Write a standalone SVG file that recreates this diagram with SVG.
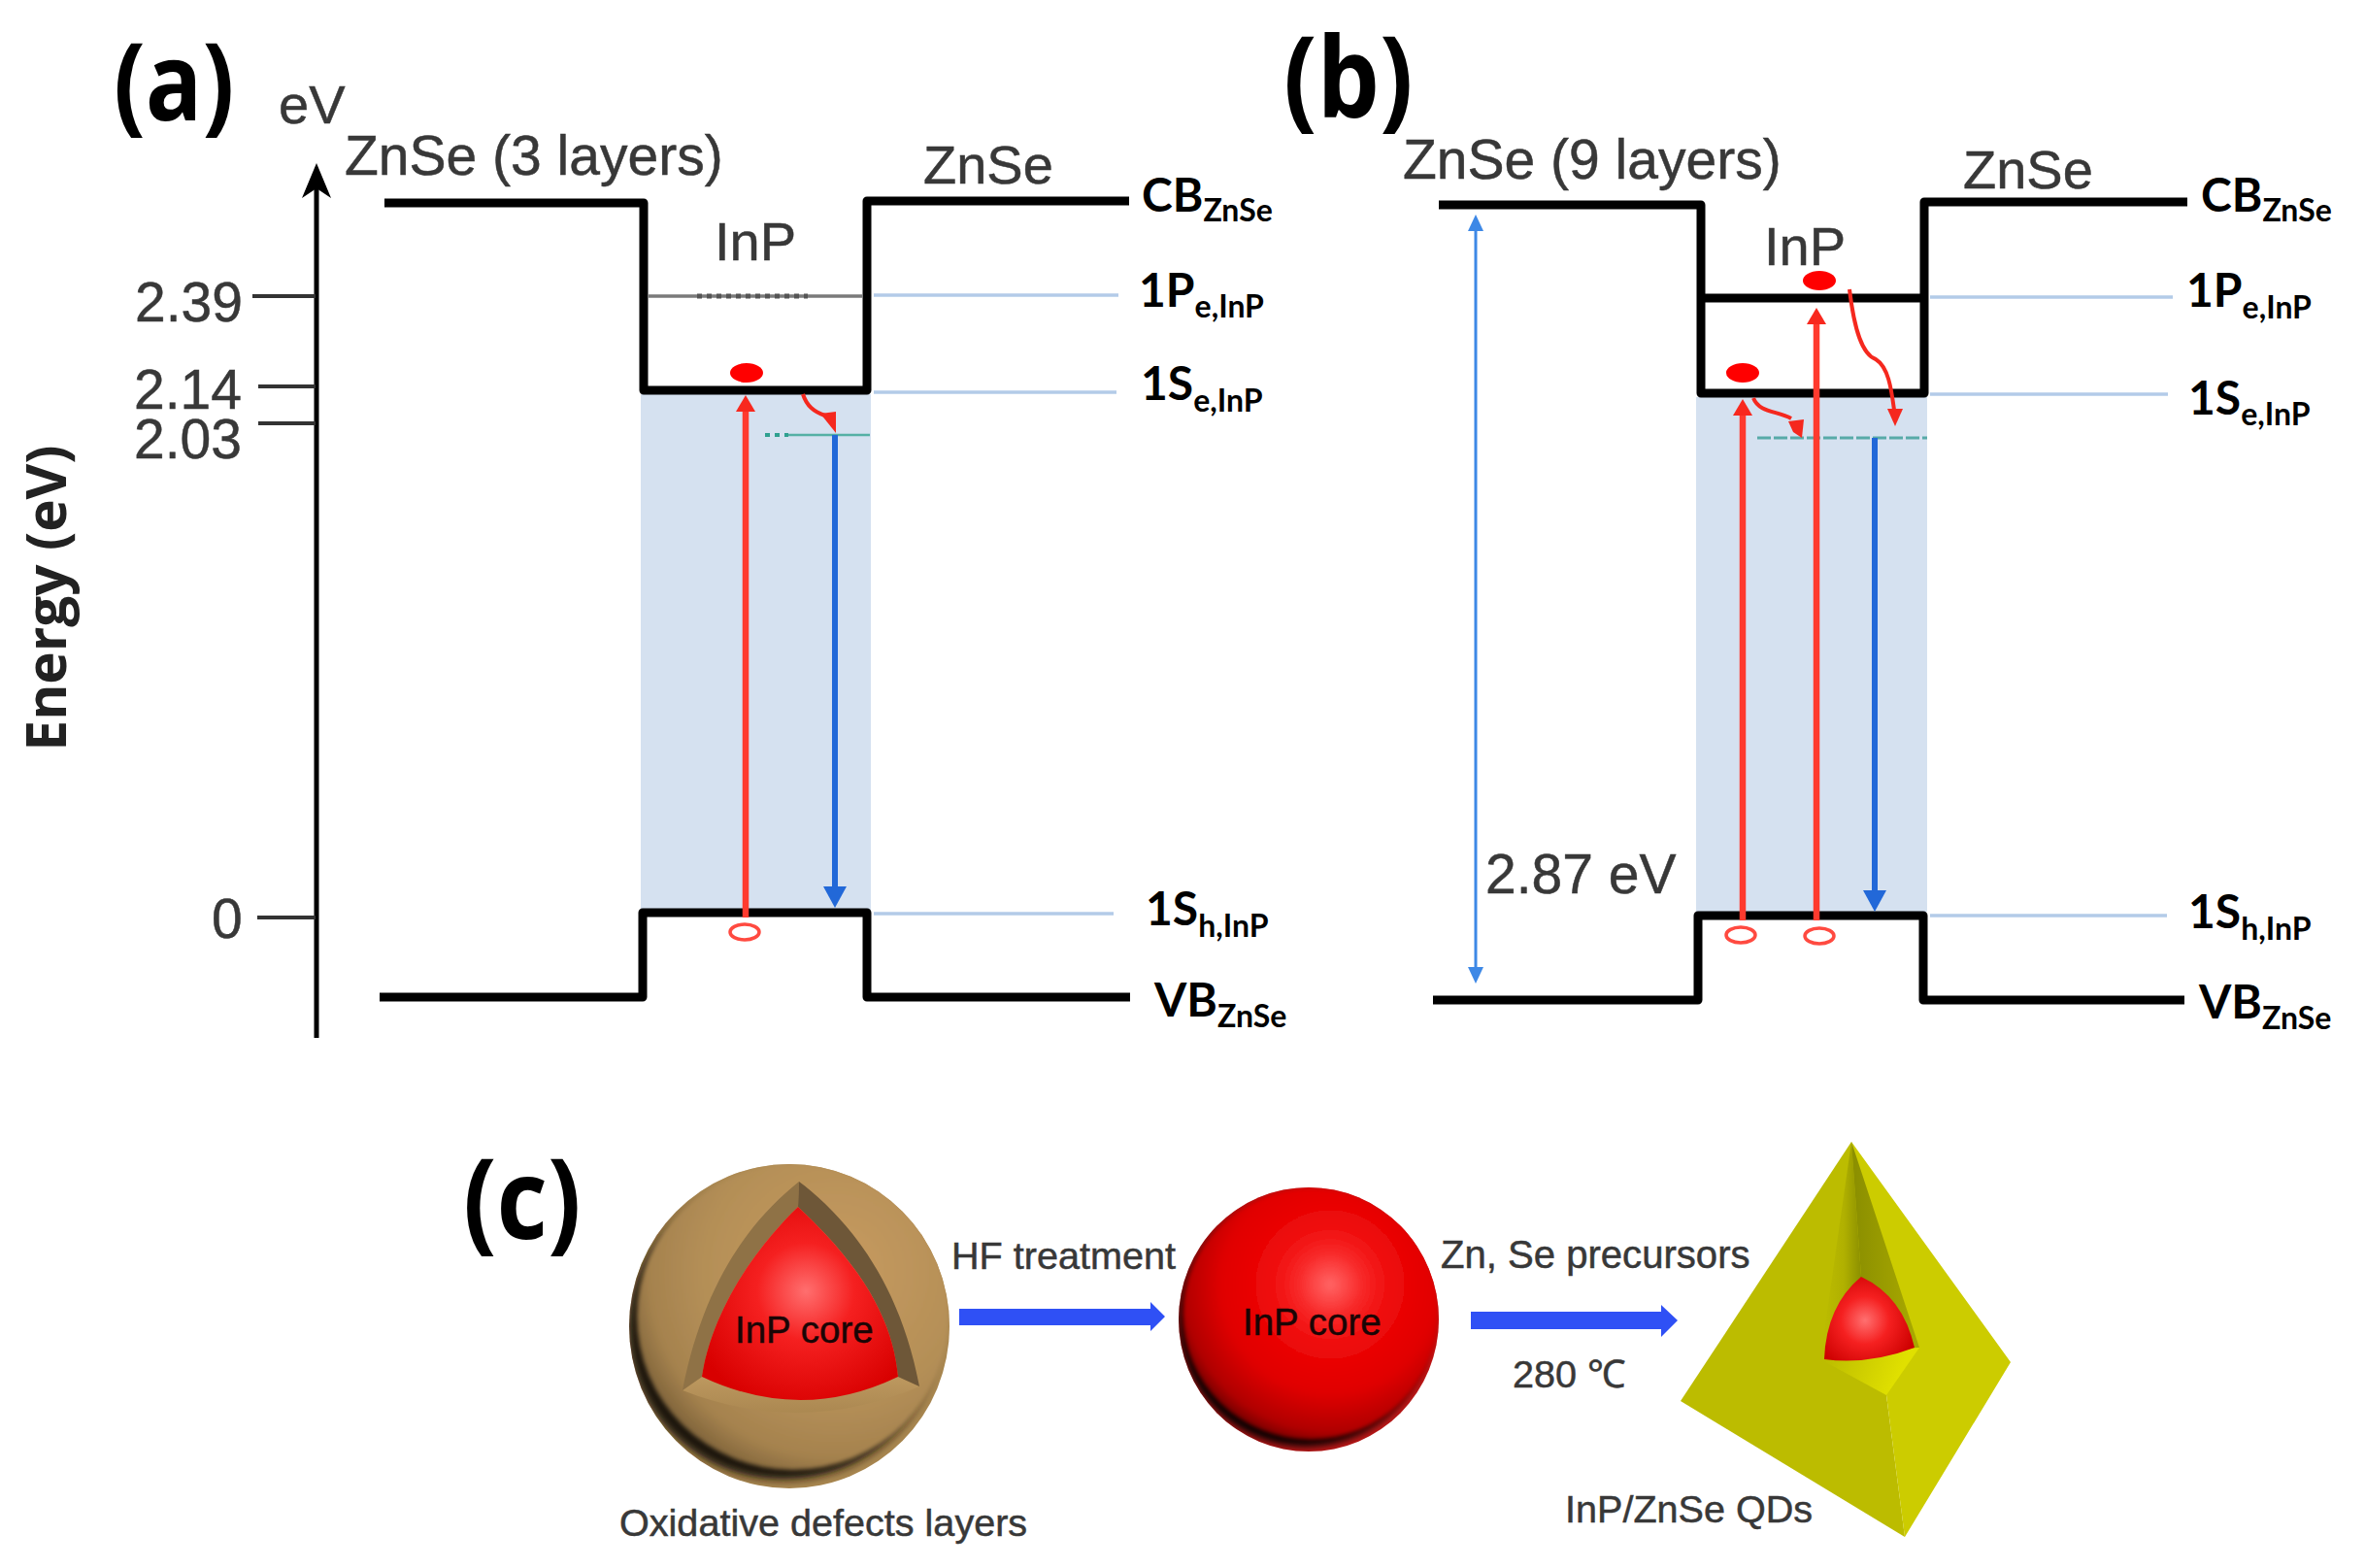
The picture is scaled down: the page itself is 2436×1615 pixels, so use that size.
<svg xmlns="http://www.w3.org/2000/svg" width="2436" height="1615" viewBox="0 0 2436 1615">
<defs>
<style>
text{font-family:"Liberation Sans",Arial,sans-serif;fill:#383838;stroke:#383838;stroke-width:.5}
.panel{font-family:"Open Sans","Liberation Sans",sans-serif;font-weight:700;font-size:97px;fill:#000;stroke:none}
.title{font-size:56px}
.wide{font-size:57px}
.step{font-size:39.6px}
.core{font-size:38.5px;fill:#1a0505;stroke:#1a0505}
.lvl{font-family:Lato,"Liberation Sans",sans-serif;font-weight:700;font-size:48px;fill:#000;stroke:none}
.lvl tspan{font-size:32px}
.band{fill:none;stroke:#000;stroke-width:9;stroke-linejoin:round}
.shade{fill:#d5e1f0}
.lv{fill:none;stroke:#b3cbe8;stroke-width:3.5}
.tick{fill:none;stroke:#333;stroke-width:4}
.up{fill:none;stroke:#ff3a2e;stroke-width:6.5;marker-end:url(#hr)}
.down{fill:none;stroke:#2268d8;stroke-width:6;marker-end:url(#hb)}
.curl{fill:none;stroke:#f5281e;stroke-width:4}
.e{fill:#f00}
.h{fill:none;stroke:#ff4a40;stroke-width:3.5}
.blk{fill:#2f50f5}
</style>
<marker id="hr" markerUnits="userSpaceOnUse" markerWidth="22" markerHeight="22" refX="0" refY="10" orient="auto"><path d="M0 0L17 10L0 20Z" fill="#f8281e"/></marker>
<marker id="hb" markerUnits="userSpaceOnUse" markerWidth="26" markerHeight="26" refX="0" refY="12" orient="auto"><path d="M0 0L22 12L0 24Z" fill="#2268d8"/></marker>
<filter id="soft" x="-10%" y="-10%" width="120%" height="120%"><feGaussianBlur stdDeviation="4"/></filter>
<filter id="soft2" x="-10%" y="-10%" width="120%" height="120%"><feGaussianBlur stdDeviation="2"/></filter>
<clipPath id="clipA"><ellipse cx="813" cy="1366" rx="165" ry="167"/></clipPath>
<clipPath id="clipB"><ellipse cx="1348" cy="1359" rx="134" ry="136"/></clipPath>
<radialGradient id="brown" gradientUnits="userSpaceOnUse" cx="860" cy="1310" r="225"><stop offset="0" stop-color="#c89b60"/><stop offset=".6" stop-color="#b48f57"/><stop offset=".85" stop-color="#a5824e"/><stop offset="1" stop-color="#7d6239"/></radialGradient>
<radialGradient id="redS" gradientUnits="userSpaceOnUse" cx="1370" cy="1323" r="172"><stop offset="0" stop-color="#ff6464"/><stop offset=".08" stop-color="#fd4c4c"/><stop offset=".18" stop-color="#f82c2c"/><stop offset=".3" stop-color="#f21414"/><stop offset=".45" stop-color="#ea0606"/><stop offset=".65" stop-color="#e00000"/><stop offset=".88" stop-color="#b00000"/><stop offset="1" stop-color="#600000"/></radialGradient>
<radialGradient id="redC" gradientUnits="userSpaceOnUse" cx="830" cy="1330" r="125"><stop offset="0" stop-color="#ff6f6f"/><stop offset=".4" stop-color="#f52020"/><stop offset="1" stop-color="#d80000"/></radialGradient>
<radialGradient id="redD" gradientUnits="userSpaceOnUse" cx="1921" cy="1360" r="55"><stop offset="0" stop-color="#ff7070"/><stop offset=".45" stop-color="#f52020"/><stop offset="1" stop-color="#cc0000"/></radialGradient>
<linearGradient id="wallL" gradientUnits="userSpaceOnUse" x1="1878" x2="1917" y1="0" y2="0"><stop offset="0" stop-color="#bcbc00"/><stop offset=".55" stop-color="#b0b000"/><stop offset="1" stop-color="#8c9000"/></linearGradient>
<linearGradient id="wallR" gradientUnits="userSpaceOnUse" x1="1912" x2="1972" y1="0" y2="0"><stop offset="0" stop-color="#8c9000"/><stop offset="1" stop-color="#a8a800"/></linearGradient>
<linearGradient id="floorG" gradientUnits="userSpaceOnUse" x1="1880" x2="1950" y1="1400" y2="1430"><stop offset="0" stop-color="#bcbc00"/><stop offset="1" stop-color="#e0e000"/></linearGradient>
<linearGradient id="floorB" x1="0" x2="0" y1="0" y2="1"><stop offset="0" stop-color="#bd985f"/><stop offset="1" stop-color="#ab8851"/></linearGradient>
</defs>
<rect width="2436" height="1615" fill="#fff"/>

<g id="panel-a">
<rect class="shade" x="660" y="406" width="237" height="532"/>
<line class="lv" x1="900" y1="304" x2="1152" y2="304"/>
<line class="lv" x1="900" y1="404" x2="1150" y2="404"/>
<line class="lv" x1="900" y1="941" x2="1147" y2="941"/>
<path class="band" d="M396 209H663V402H893V207H1163"/>
<path class="band" d="M391 1027H662V940H893V1027H1164"/>
<line x1="668" y1="305" x2="888" y2="305" stroke="#7a7a7a" stroke-width="3.5"/>
<line x1="718" y1="305" x2="832" y2="305" stroke="#555" stroke-width="5" stroke-dasharray="5 5"/>
<line x1="788" y1="448" x2="812" y2="448" stroke="#2fa090" stroke-width="4" stroke-dasharray="5 5"/>
<line x1="812" y1="448" x2="896" y2="448" stroke="#55b0a5" stroke-width="2.5"/>
<ellipse class="e" cx="769" cy="384" rx="17" ry="10"/>
<ellipse class="h" cx="767" cy="960" rx="15" ry="8"/>
<text class="panel" transform="translate(117 124) scale(1 1.15)">(a)</text>
<text class="title" x="287" y="127">eV</text>
<text class="wide" x="355" y="180">ZnSe (3 layers)</text>
<text class="title" x="951" y="189">ZnSe</text>
<text class="title" x="736" y="268">InP</text>
<text class="lvl" x="1176" y="218">CB<tspan dy="10">ZnSe</tspan></text>
<text class="lvl" x="1173" y="316">1P<tspan dy="11">e,InP</tspan></text>
<text class="lvl" x="1175" y="412">1S<tspan dy="12">e,InP</tspan></text>
<text class="lvl" x="1180" y="953">1S<tspan dy="12">h,InP</tspan></text>
<text class="lvl" x="1189" y="1047">VB<tspan dy="11">ZnSe</tspan></text>
</g>

<g id="axis">
<line x1="326" y1="178" x2="326" y2="1069" stroke="#000" stroke-width="5"/>
<path d="M326 168L341 204L326 194L311 204Z" fill="#000"/>
<line class="tick" x1="260" y1="305" x2="325" y2="305"/>
<line class="tick" x1="266" y1="398" x2="325" y2="398"/>
<line class="tick" x1="266" y1="436" x2="325" y2="436"/>
<line class="tick" x1="265" y1="945" x2="325" y2="945"/>
<text class="wide" x="139" y="331">2.39</text>
<text class="wide" x="138" y="421">2.14</text>
<text class="wide" x="138" y="472">2.03</text>
<text class="wide" x="218" y="966">0</text>
<text transform="translate(68 616) rotate(-90)" text-anchor="middle" font-size="56.5" font-weight="700" style="font-family:'Open Sans','Liberation Sans',sans-serif;fill:#222;stroke:none">Energy (eV)</text>
</g>

<g id="panel-b">
<rect class="shade" x="1747" y="409" width="238" height="530"/>
<line class="lv" x1="1988" y1="306" x2="2238" y2="306"/>
<line class="lv" x1="1988" y1="406" x2="2233" y2="406"/>
<line class="lv" x1="1988" y1="943" x2="2232" y2="943"/>
<path class="band" d="M1482 211H1752V405H1982V208H2253"/>
<path class="band" d="M1752 307H1982"/>
<path class="band" d="M1476 1030H1749V943H1981V1030H2250"/>
<line x1="1810" y1="451" x2="1985" y2="451" stroke="#58aaa8" stroke-width="3" stroke-dasharray="14 3"/>
<ellipse class="e" cx="1795" cy="384" rx="17" ry="10"/>
<ellipse class="e" cx="1874" cy="289" rx="17" ry="10"/>
<ellipse class="h" cx="1793" cy="963" rx="15" ry="8"/>
<ellipse class="h" cx="1874" cy="964" rx="15" ry="8"/>
<text class="panel" transform="translate(1322 120) scale(1 1.12)" style="font-size:102px">(b)</text>
<text class="wide" x="1445" y="184">ZnSe (9 layers)</text>
<text class="title" x="2022" y="194">ZnSe</text>
<text class="title" x="1817" y="273">InP</text>
<text class="wide" x="1530" y="920">2.87 eV</text>
<text class="lvl" x="2267" y="218">CB<tspan dy="10">ZnSe</tspan></text>
<text class="lvl" x="2252" y="316">1P<tspan dy="12">e,InP</tspan></text>
<text class="lvl" x="2254" y="427">1S<tspan dy="11">e,InP</tspan></text>
<text class="lvl" x="2254" y="956">1S<tspan dy="12">h,InP</tspan></text>
<text class="lvl" x="2265" y="1049">VB<tspan dy="11">ZnSe</tspan></text>
</g>

<g id="connectors">
<line class="up" x1="768" y1="945" x2="768" y2="424"/>
<line class="down" x1="860" y1="448" x2="860" y2="913"/>
<path class="curl" d="M827 406C831 418 838 424 850 428"/>
<path d="M845 426L861 424L861 446Z" fill="#f5281e"/>
<line class="up" x1="1795" y1="948" x2="1795" y2="428"/>
<line class="up" x1="1871" y1="948" x2="1871" y2="334"/>
<line class="down" x1="1931" y1="451" x2="1931" y2="917"/>
<path class="curl" d="M1806 410C1812 425 1830 423 1845 431"/>
<path d="M1842 434L1858 432L1856 451L1847 445Z" fill="#f5281e"/>
<path class="curl" d="M1905 298C1910 340 1918 365 1932 370C1945 378 1948 400 1951 422"/>
<path d="M1944 421H1960L1952 439Z" fill="#f5281e"/>
<line x1="1520" y1="238" x2="1520" y2="996" stroke="#3d88e6" stroke-width="3"/>
<path d="M1520 221L1528 238H1512Z" fill="#3d88e6"/>
<path d="M1520 1013L1528 996H1512Z" fill="#3d88e6"/>
<path class="blk" d="M988 1348H1185V1341L1200 1356L1185 1371V1365H988Z"/>
<path class="blk" d="M1515 1351H1711V1344L1728 1360L1711 1377V1369H1515Z"/>
</g>

<g id="panel-c">
<text class="panel" transform="translate(477 1276) scale(1 1.12)" style="font-size:102px">(c)</text>
</g>

<g id="oxidized-core">
<ellipse cx="813" cy="1366" rx="165" ry="167" fill="#a8864f"/>
<g clip-path="url(#clipA)">
<ellipse cx="807" cy="1368" rx="160" ry="156" fill="#1c140c" filter="url(#soft)"/>
<ellipse cx="817" cy="1356" rx="161" ry="158" fill="url(#brown)" filter="url(#soft2)"/>
</g>
<path d="M703 1432Q825 1480 947 1428L925 1418H723Z" fill="url(#floorB)"/>
<path d="M823 1217C773 1257 725 1320 703 1432L723 1418C730 1367 763 1300 822 1243Z" fill="#8f7246"/>
<path d="M823 1217C863 1247 925 1310 947 1428L925 1418C920 1367 897 1313 822 1243Z" fill="#6e5738"/>
<path d="M822 1243C763 1300 730 1367 723 1418Q825 1466 925 1418C920 1367 897 1313 822 1243Z" fill="url(#redC)"/>
<text class="core" x="757" y="1383">InP core</text>
<text class="step" x="638" y="1582">Oxidative defects layers</text>
</g>

<g id="bare-core">
<ellipse cx="1348" cy="1359" rx="134" ry="136" fill="#c01818"/>
<g clip-path="url(#clipB)">
<ellipse cx="1344" cy="1360" rx="130" ry="130" fill="#000" filter="url(#soft)"/>
<ellipse cx="1350" cy="1353" rx="132" ry="130" fill="url(#redS)" filter="url(#soft2)"/>
</g>
<text class="core" x="1280" y="1375">InP core</text>
</g>

<g id="core-shell">
<path d="M1907 1176L1731 1443L1962 1583L1943 1437Z" fill="#bcbc00"/>
<path d="M1907 1176L2071 1403L1962 1583L1943 1437Z" fill="#cccc00"/>
<path d="M1907 1176L1875 1400L1917 1400L1917 1315Z" fill="url(#wallL)"/>
<path d="M1907 1176L1977 1388L1917 1388L1917 1315Z" fill="url(#wallR)"/>
<path d="M1875 1400L1977 1388L1943 1437Z" fill="url(#floorG)"/>
<path d="M1917 1315Q1881 1345 1879 1400Q1925 1406 1972 1388Q1960 1335 1917 1315Z" fill="url(#redD)"/>
<text class="step" x="1612" y="1568">InP/ZnSe QDs</text>
</g>

<g id="step-labels">
<text class="step" x="980" y="1307">HF treatment</text>
<text class="step" x="1484" y="1306" style="font-size:40.1px">Zn, Se precursors</text>
<text class="step" x="1558" y="1429">280 ℃</text>
</g>
</svg>
